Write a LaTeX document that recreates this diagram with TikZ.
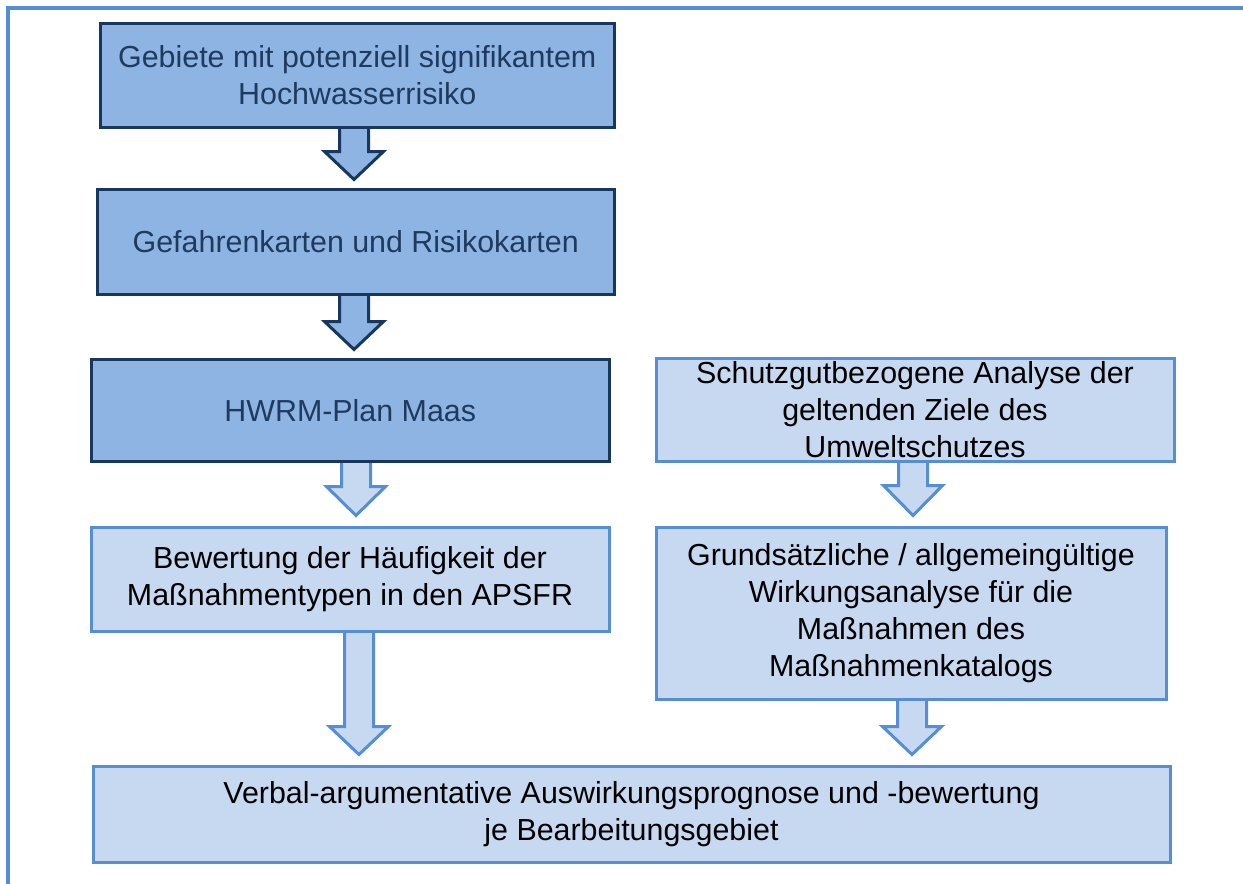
\documentclass[tikz,border=0pt]{standalone}
\usepackage{fontspec}
\setmainfont{Liberation Sans}
\usetikzlibrary{calc,backgrounds}
\definecolor{darkfill}{HTML}{8EB4E3}
\definecolor{darkline}{HTML}{17375E}
\definecolor{darktext}{HTML}{1F3A5F}
\definecolor{lightfill}{HTML}{C6D9F1}
\definecolor{lightline}{HTML}{558ED5}
\tikzset{
  box/.style={inner sep=0pt, anchor=north west, align=center,
    font=\fontsize{30.4pt}{36.8pt}\selectfont},
  darkbox/.style={box, fill=darkfill, draw=darkline, line width=3.5pt, text=darktext},
  lightbox/.style={box, fill=lightfill, draw=lightline, line width=3pt, text=black},
  darkarrow/.style={fill=darkfill, draw=darkline, line width=3pt, line join=miter},
  lightarrow/.style={fill=lightfill, draw=lightline, line width=3pt, line join=miter},
  frameline/.style={draw=lightline, line width=4pt}
}
\newcommand\blockarr[6]{% style, x, from, to, tip gap, head base gap
  \path[#1] let \p1=(#3.south), \p2=(#4.north) in
    (#2pt-14.5pt,\y1+3pt) -- (#2pt-14.5pt,\y2+#6pt) -- (#2pt-29.5pt,\y2+#6pt)
    -- (#2pt,\y2+#5pt) -- (#2pt+29.5pt,\y2+#6pt) -- (#2pt+14.5pt,\y2+#6pt)
    -- (#2pt+14.5pt,\y1+3pt);
}
\begin{document}
\begin{tikzpicture}[x=1pt,y=-1pt]
\useasboundingbox (0,0) rectangle (1243,884);
\coordinate (fa) at (8,884);
\coordinate (fb) at (8,8);
\coordinate (fc) at (1243,8);
\draw[frameline] (fa) -- (fb) -- (fc);

\node[darkbox, minimum width=514pt, minimum height=104pt] (b1) at (98.5,21.5)
  {Gebiete mit potenziell signifikantem\\Hochwasserrisiko};
\node[darkbox, minimum width=517pt, minimum height=105pt] (b2) at (95.5,187.5)
  {Gefahrenkarten und Risikokarten};
\node[darkbox, minimum width=518pt, minimum height=102pt] (b3) at (89.5,357.5)
  {HWRM-Plan Maas};
\node[lightbox, minimum width=518pt, minimum height=103pt] (r1) at (654.5,356.5)
  {Schutzgutbezogene Analyse der\\geltenden Ziele des\\Umweltschutzes};
\node[lightbox, minimum width=518pt, minimum height=104pt] (b4) at (89.5,525.5)
  {Bewertung der Häufigkeit der\\Maßnahmentypen in den APSFR};
\node[lightbox, minimum width=510pt, minimum height=172pt] (r2) at (654.5,525.5)
  {Grundsätzliche / allgemeingültige\\Wirkungsanalyse für die\\Maßnahmen des\\Maßnahmenkatalogs};
\node[lightbox, minimum width=1077pt, minimum height=96pt] (b5) at (91.5,764.5)
  {Verbal-argumentative Auswirkungsprognose und -bewertung\\je Bearbeitungsgebiet};

\begin{scope}[on background layer]
  \blockarr{darkarrow}{354}{b1}{b2}{8}{36}
  \blockarr{darkarrow}{354}{b2}{b3}{8}{36}
  \blockarr{lightarrow}{356}{b3}{b4}{10}{39}
  \blockarr{lightarrow}{913}{r1}{r2}{10}{40}
  \blockarr{lightarrow}{359}{b4}{b5}{10}{38}
  \blockarr{lightarrow}{912}{r2}{b5}{10}{38}
\end{scope}
\end{tikzpicture}
\end{document}
